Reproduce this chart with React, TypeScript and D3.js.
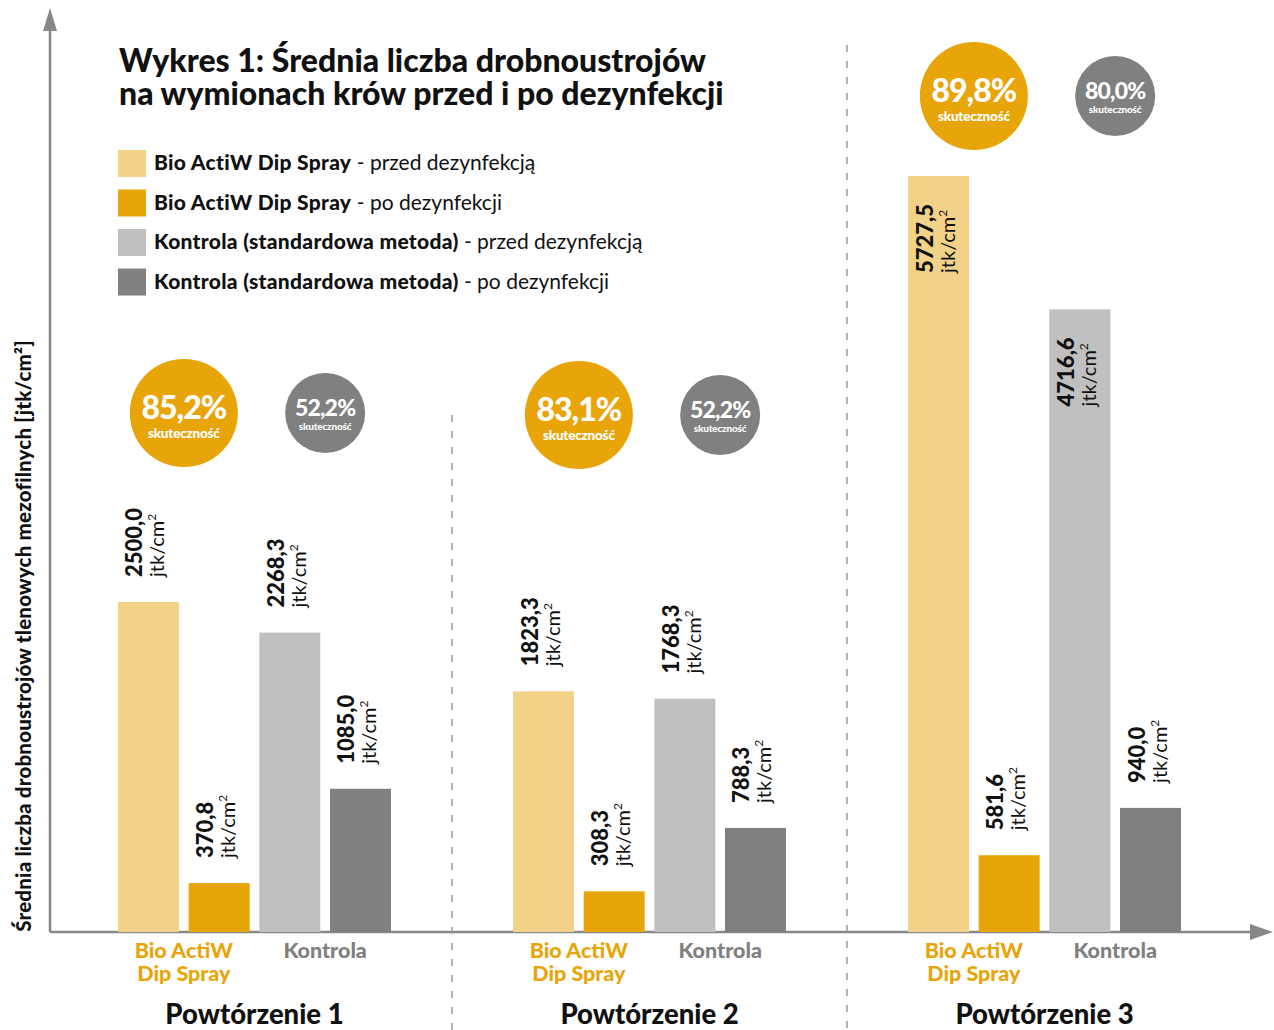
import React from "react";
import * as d3 from "d3";

const groups = ["Powtórzenie 1", "Powtórzenie 2", "Powtórzenie 3"];
const seriesKeys = ["bioPrzed", "bioPo", "kontrolaPrzed", "kontrolaPo"];
const bioPrzed = [2500.0, 1823.3, 5727.5];
const bioPo = [370.8, 308.3, 581.6];
const kontrolaPrzed = [2268.3, 1768.3, 4716.6];
const kontrolaPo = [1085.0, 788.3, 940.0];
const bioEff = ["85,2%", "83,1%", "89,8%"];
const kontrolaEff = ["52,2%", "52,2%", "80,0%"];
const seriesColors = ["#F2D188", "#E8A50A", "#C0C0C0", "#808080"];
const legendBold = [
  "Bio ActiW Dip Spray",
  "Bio ActiW Dip Spray",
  "Kontrola (standardowa metoda)",
  "Kontrola (standardowa metoda)",
];
const legendRest = [
  " - przed dezynfekcją",
  " - po dezynfekcji",
  " - przed dezynfekcją",
  " - po dezynfekcji",
];
const titleLines = [
  "Wykres 1: Średnia liczba drobnoustrojów",
  "na wymionach krów przed i po dezynfekcji",
];
const yAxisTitle = "Średnia liczba drobnoustrojów tlenowych mezofilnych [jtk/cm²]";
const fmt = (v: number) => v.toFixed(1).replace(".", ",");

const W = 1274;
const H = 1030;
const FONT = "Lato, 'Open Sans', sans-serif";
const badgeY = [413, 415, 96];

export default function App() {
  const values = [bioPrzed, bioPo, kontrolaPrzed, kontrolaPo];
  const baseY = 932;
  const y = d3.scaleLinear().domain([0, 7000]).range([baseY, 8]);
  const x0 = d3.scaleBand<string>().domain(groups).range([118, 1181]).paddingInner(0.309).paddingOuter(0);
  const x1 = d3.scaleBand<string>().domain(seriesKeys).range([0, x0.bandwidth()]).paddingInner(0.137).paddingOuter(0);

  return (
    <svg width={W} height={H} style={{ position: "absolute", left: 0, top: 0, background: "#fff" }} fontFamily={FONT}>
      {/* axes */}
      <line x1={50} y1={baseY} x2={1252} y2={baseY} stroke="#888" strokeWidth={2.5} />
      <polygon points={`1250,924 1273,932 1250,940`} fill="#888" />
      <line x1={50} y1={baseY} x2={50} y2={28} stroke="#888" strokeWidth={2.5} />
      <polygon points={`43,31 50,8 57,31`} fill="#888" />

      {/* separators */}
      {groups.slice(1).map((g, i) => {
        const prevEnd = (x0(groups[i]) as number) + x0.bandwidth();
        const sx = (prevEnd + (x0(g) as number)) / 2;
        return (
          <line key={g} x1={sx} x2={sx} y1={i === 0 ? 415 : 45} y2={H} stroke="#999" strokeWidth={1.5} strokeDasharray="7 9" />
        );
      })}

      {/* title */}
      {titleLines.map((t, i) => (
        <text key={i} x={119} y={72 + i * 33} fontSize={32} fontWeight={900} letterSpacing={0} fill="#111">
          {t}
        </text>
      ))}

      {/* legend */}
      {seriesKeys.map((k, i) => (
        <g key={k} transform={`translate(118, ${150 + i * 39.5})`}>
          <rect width={28} height={27} fill={seriesColors[i]} />
          <text x={36} y={20} fontSize={21} fill="#111">
            <tspan fontWeight={900} letterSpacing={0.3}>{legendBold[i]}</tspan>
            <tspan fontWeight={400}>{legendRest[i]}</tspan>
          </text>
        </g>
      ))}

      {/* y axis title */}
      <text
        transform={`translate(31, 636) rotate(-90)`}
        textAnchor="middle"
        fontSize={20.5}
        fontWeight={900}
        letterSpacing={0.2}
        fill="#111"
      >
        {yAxisTitle}
      </text>

      {/* bars */}
      {groups.map((g, gi) => {
        const gx = x0(g) as number;
        const bioCx = gx + ((x1("bioPrzed") as number) + (x1("bioPo") as number) + x1.bandwidth()) / 2;
        const konCx = gx + ((x1("kontrolaPrzed") as number) + (x1("kontrolaPo") as number) + x1.bandwidth()) / 2;
        const by = badgeY[gi];
        return (
          <g key={g}>
            {seriesKeys.map((k, si) => {
              const v = values[si][gi];
              const bx = gx + (x1(k) as number);
              const top = y(v);
              const cx = bx + x1.bandwidth() / 2;
              const inside = baseY - top > 500;
              const ly = inside ? top + 97 : top - 25;
              return (
                <g key={k}>
                  <rect x={bx} y={top} width={x1.bandwidth()} height={baseY - top} fill={seriesColors[si]} />
                  <text transform={`translate(${cx - 6}, ${ly}) rotate(-90)`} fontSize={22} fontWeight={900} fill="#111">
                    {fmt(v)}
                  </text>
                  <text transform={`translate(${cx + 16}, ${ly}) rotate(-90)`} fontSize={20} fontWeight={400} fill="#111">
                    jtk/cm
                    <tspan fontSize={12} dy={-8}>2</tspan>
                  </text>
                </g>
              );
            })}
            {/* badges */}
            <circle cx={bioCx} cy={by} r={54} fill="#E8A50A" />
            <text x={bioCx} y={by + 6} textAnchor="middle" fontSize={32} fontWeight={900} letterSpacing={-1} fill="#fff">
              {bioEff[gi]}
            </text>
            <text x={bioCx} y={by + 25} textAnchor="middle" fontSize={13.5} fontWeight={900} letterSpacing={-0.2} fill="#fff">
              skuteczność
            </text>
            <circle cx={konCx} cy={by} r={40} fill="#808080" />
            <text x={konCx} y={by + 3} textAnchor="middle" fontSize={23} fontWeight={900} letterSpacing={-0.8} fill="#fff">
              {kontrolaEff[gi]}
            </text>
            <text x={konCx} y={by + 17} textAnchor="middle" fontSize={10} fontWeight={900} letterSpacing={-0.2} fill="#fff">
              skuteczność
            </text>
            {/* category labels */}
            <text x={bioCx} y={958} textAnchor="middle" fontSize={21.5} fontWeight={900} fill="#E8A50A">
              Bio ActiW
            </text>
            <text x={bioCx} y={981} textAnchor="middle" fontSize={21.5} fontWeight={900} fill="#E8A50A">
              Dip Spray
            </text>
            <text x={konCx} y={958} textAnchor="middle" fontSize={21.5} fontWeight={900} fill="#808080">
              Kontrola
            </text>
            <text x={gx + x0.bandwidth() / 2} y={1024} textAnchor="middle" fontSize={27.5} fontWeight={900} fill="#111">
              {g}
            </text>
          </g>
        );
      })}
    </svg>
  );
}
